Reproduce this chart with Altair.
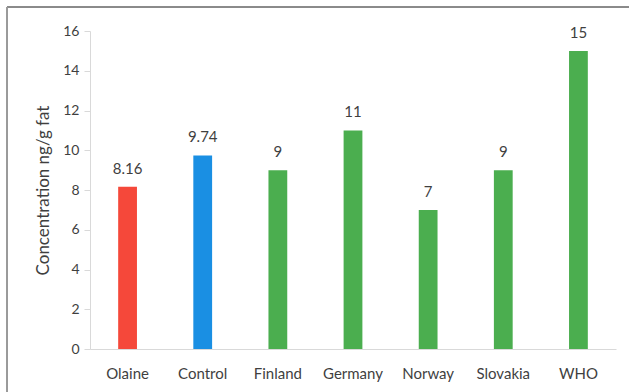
import altair as alt
import pandas as pd

# Concentration per group (ng/g fat)
groups = ["Olaine", "Control", "Finland", "Germany", "Norway", "Slovakia", "WHO"]
values = [8.16, 9.74, 9, 11, 7, 9, 15]
labels = ["8.16", "9.74", "9", "11", "7", "9", "15"]
kinds = ["Olaine", "Control", "Reference", "Reference", "Reference", "Reference", "Reference"]
y_ticks = [0, 2, 4, 6, 8, 10, 12, 14, 16]

df = pd.DataFrame({"group": groups, "value": values, "label": labels, "kind": kinds})

FONT = "Lato"
TEXT = "#3f3f3f"

x = alt.X(
    "group:N",
    sort=groups,
    scale=alt.Scale(paddingInner=0.75, paddingOuter=0.375),
    axis=alt.Axis(
        title=None, labelAngle=0, ticks=False, domainColor="#d9d9d9",
        labelFont=FONT, labelFontSize=15, labelColor=TEXT, labelPadding=17,
    ),
)
y = alt.Y(
    "value:Q",
    scale=alt.Scale(domain=[0, 16], nice=False),
    axis=alt.Axis(
        title="Concentration ng/g fat", values=y_ticks, tickCount=9, grid=False,
        labelOverlap=False,
        domainColor="#d9d9d9", tickColor="#d9d9d9", tickSize=6,
        labelFont=FONT, labelFontSize=14, labelColor=TEXT, labelPadding=5,
        titleFont=FONT, titleFontSize=17, titleFontWeight="normal", titleColor=TEXT,
        titlePadding=10,
    ),
)

bars = alt.Chart(df).mark_bar().encode(
    x=x,
    y=y,
    color=alt.Color(
        "kind:N",
        scale=alt.Scale(domain=["Olaine", "Control", "Reference"],
                        range=["#f5483a", "#1a8fe3", "#4bae4f"]),
        legend=None,
    ),
)

text = alt.Chart(df).mark_text(
    dy=-10, font=FONT, fontSize=15, color=TEXT, baseline="bottom"
).encode(x=x, y=y, text="label:N")

# thin gray frame around the figure
frame_top = alt.Chart(df).mark_rule(color="#8a8a8a", strokeWidth=1).encode(
    x=alt.value(-83), x2=alt.value(539), y=alt.value(-24)
)
frame_left = alt.Chart(df).mark_rule(color="#9a9a9a", strokeWidth=1).encode(
    x=alt.value(-83), y=alt.value(-24), y2=alt.value(361)
)

chart = (
    alt.layer(bars, text, frame_top, frame_left)
    .properties(
        width=526, height=318,
        autosize=alt.AutoSizeParams(type="none"),
        padding={"left": 90, "top": 31, "right": 13, "bottom": 43},
        background="white",
    )
    .configure_view(stroke=None)
    .configure_axisY(labelOverlap=False, tickCount=9)
    .configure_axis(labelOverlap=False)
)

chart.save("out.html", embed_options={"renderer": "svg", "actions": False})
